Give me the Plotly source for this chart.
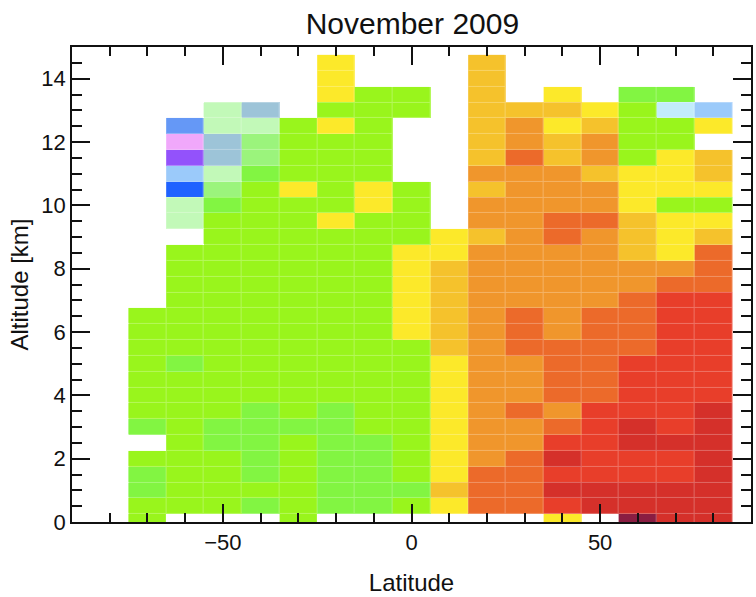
import plotly.graph_objects as go

# Latitude bin centres (deg) and altitude bin centres (km)
LATITUDES = [-70, -60, -50, -40, -30, -20, -10, 0, 10, 20, 30, 40, 50, 60, 70, 80]
ALTITUDES = [0.0, 0.5, 1.0, 1.5, 2.0, 2.5, 3.0, 3.5, 4.0, 4.5, 5.0, 5.5, 6.0, 6.5, 7.0,
             7.5, 8.0, 8.5, 9.0, 9.5, 10.0, 10.5, 11.0, 11.5, 12.0, 12.5, 13.0, 13.5, 14.0, 14.5]

# Colour classes, lowest to highest; one character per class
LEVEL_CODES = "PBCKLGIplmgyoOdrRM"
LEVEL_COLORS = [
    "#9352fb",  # P
    "#1f62ff",  # B
    "#6598f6",  # C
    "#f0a8fb",  # K
    "#9bcafa",  # L
    "#9dc4d8",  # G
    "#c2ecfb",  # I
    "#c2f9b8",  # p
    "#9bf47c",  # l
    "#82f542",  # m
    "#99f51c",  # g
    "#fce92a",  # y
    "#f5c22c",  # o
    "#f0962c",  # O
    "#ec6a2a",  # d
    "#e83e2a",  # r
    "#d5302a",  # R
    "#8a1d42",  # M
]

# Binned classes per altitude row (top row = 14.5 km), one char per latitude bin, '.' = no data
CLASS_ROWS = [
    ".....y...o......",  # 14.5
    ".....y...o......",  # 14.0
    ".....ygg.o.y.mm.",  # 13.5
    "..pG.ggg.oooygIL",  # 13.0
    ".Cppgyg..oOyoggy",  # 12.5
    ".KGlggg..oOoOgg.",  # 12.0
    ".PGlggg..odoOgyo",  # 11.5
    ".Lpmggg..OOOoyyo",  # 11.0
    ".Blgygyg.oOOOyyy",  # 10.5
    ".pmgggyg.OOOOygg",  # 10.0
    ".pgggygg.OOddoyy",  # 9.5
    "..ggggggyoOdOoyo",  # 9.0
    ".ggggggyyOOOOoyd",  # 8.5
    ".ggggggyoOOOOOOd",  # 8.0
    ".ggggggyoOOOOOdd",  # 7.5
    ".ggggggyoOOOOdrr",  # 7.0
    "gggggggyoOdOddrr",  # 6.5
    "gggggggyoOdOddrr",  # 6.0
    "ggggggggoOddddrr",  # 5.5
    "gmggggggyOOddrrr",  # 5.0
    "ggggggggyOOddrrr",  # 4.5
    "ggggggggyOOddrrr",  # 4.0
    "gggmgmggyOdOrrrR",  # 3.5
    "mgmmmmggyOOdrRrR",  # 3.0
    ".gmmgmmgyOOrrRRR",  # 2.5
    "gggmgmmgyOdRrrrR",  # 2.0
    "mggmgmmgyddrrrrR",  # 1.5
    "mggggmmmoddRRRRR",  # 1.0
    "gggmgmmgyddrRRRR",  # 0.5
    "g...g......y.MRR",  # 0.0
]

# z grid ordered bottom-up to match ALTITUDES
z = []
for row in reversed(CLASS_ROWS):
    z.append([None if ch == "." else LEVEL_CODES.index(ch) for ch in row])

n = len(LEVEL_COLORS)
colorscale = []
for i, c in enumerate(LEVEL_COLORS):
    colorscale.append([i / n, c])
    colorscale.append([(i + 1) / n, c])

common = dict(x=LATITUDES, y=ALTITUDES, z=z, colorscale=colorscale,
              zmin=-0.5, zmax=n - 0.5, showscale=False, hoverinfo="skip")

fig = go.Figure()
# faded copy underneath shows through the cell gaps as light borders
fig.add_trace(go.Heatmap(**common, opacity=0.72))
fig.add_trace(go.Heatmap(**common, xgap=1, ygap=1))

FONT = "Liberation Sans, Arial, Helvetica, sans-serif"
axis_common = dict(
    showline=True, linecolor="#111", linewidth=1.5, mirror="allticks",
    ticks="inside", tickwidth=1.5, tickcolor="#111",
    showgrid=False, zeroline=False,
    tickfont=dict(family=FONT, size=22, color="#111"),
)

fig.update_layout(
    width=756, height=597,
    margin=dict(l=72, r=3, t=47, b=75),
    plot_bgcolor="white", paper_bgcolor="white",
    title=dict(text="November 2009", x=0.5455, xanchor="center",
               y=1 - 23 / 597, yref="container", yanchor="middle",
               font=dict(family=FONT, size=30, color="#111")),
    xaxis=dict(range=[-90, 90], tick0=0, dtick=50, ticklen=18,
               minor=dict(dtick=10, tick0=0, ticks="inside", ticklen=9,
                          tickwidth=1.5, tickcolor="#111"),
               title=dict(text="Latitude", standoff=20,
                          font=dict(family=FONT, size=24, color="#111")),
               **axis_common),
    yaxis=dict(range=[0, 15], tick0=0, dtick=2, ticklen=18,
               minor=dict(dtick=0.5, tick0=0, ticks="inside", ticklen=10,
                          tickwidth=1.5, tickcolor="#111"),
               title=dict(text="Altitude [km]", standoff=6,
                          font=dict(family=FONT, size=24, color="#111")),
               **axis_common),
)

fig.write_html("out.html")
